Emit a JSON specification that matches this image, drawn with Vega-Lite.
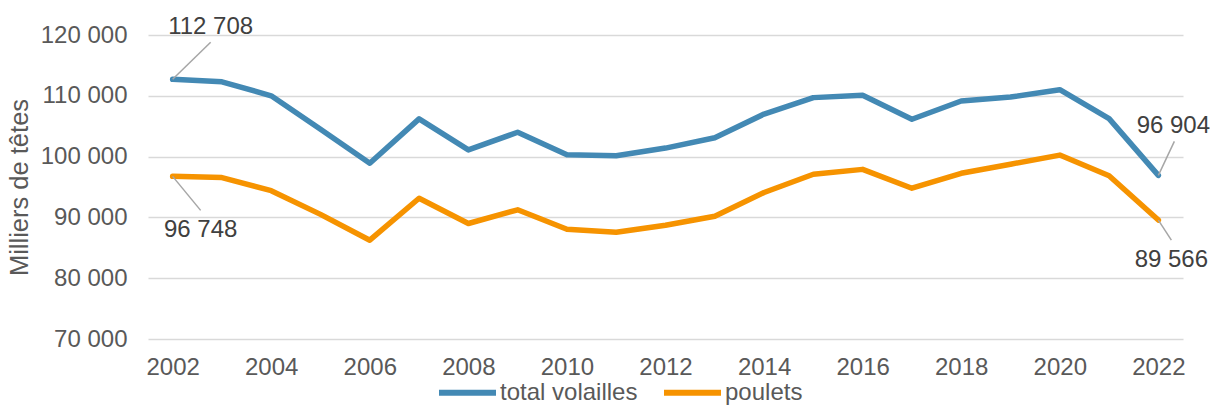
{
  "$schema": "https://vega.github.io/schema/vega-lite/v6.json",
  "autosize": {"type": "none"},
  "padding": {"left": 148, "top": 35, "right": 27, "bottom": 66},
  "width": 1035,
  "height": 304,
  "background": "white",
  "config": {
    "view": {"stroke": null},
    "font": "Liberation Sans",
    "text": {"font": "Liberation Sans"}
  },
  "datasets": {
    "main": [
      {"year": 2002, "series": "total volailles", "value": 112708},
      {"year": 2003, "series": "total volailles", "value": 112300},
      {"year": 2004, "series": "total volailles", "value": 110000},
      {"year": 2005, "series": "total volailles", "value": 104500},
      {"year": 2006, "series": "total volailles", "value": 98900},
      {"year": 2007, "series": "total volailles", "value": 106200},
      {"year": 2008, "series": "total volailles", "value": 101100},
      {"year": 2009, "series": "total volailles", "value": 104000},
      {"year": 2010, "series": "total volailles", "value": 100300},
      {"year": 2011, "series": "total volailles", "value": 100150},
      {"year": 2012, "series": "total volailles", "value": 101400},
      {"year": 2013, "series": "total volailles", "value": 103100},
      {"year": 2014, "series": "total volailles", "value": 107000},
      {"year": 2015, "series": "total volailles", "value": 109700},
      {"year": 2016, "series": "total volailles", "value": 110100},
      {"year": 2017, "series": "total volailles", "value": 106150},
      {"year": 2018, "series": "total volailles", "value": 109150},
      {"year": 2019, "series": "total volailles", "value": 109800},
      {"year": 2020, "series": "total volailles", "value": 111000},
      {"year": 2021, "series": "total volailles", "value": 106250},
      {"year": 2022, "series": "total volailles", "value": 96904},
      {"year": 2002, "series": "poulets", "value": 96748},
      {"year": 2003, "series": "poulets", "value": 96550},
      {"year": 2004, "series": "poulets", "value": 94400},
      {"year": 2005, "series": "poulets", "value": 90500},
      {"year": 2006, "series": "poulets", "value": 86250},
      {"year": 2007, "series": "poulets", "value": 93150},
      {"year": 2008, "series": "poulets", "value": 89000},
      {"year": 2009, "series": "poulets", "value": 91250},
      {"year": 2010, "series": "poulets", "value": 88050},
      {"year": 2011, "series": "poulets", "value": 87550},
      {"year": 2012, "series": "poulets", "value": 88700},
      {"year": 2013, "series": "poulets", "value": 90200},
      {"year": 2014, "series": "poulets", "value": 94100},
      {"year": 2015, "series": "poulets", "value": 97100},
      {"year": 2016, "series": "poulets", "value": 97900},
      {"year": 2017, "series": "poulets", "value": 94800},
      {"year": 2018, "series": "poulets", "value": 97250},
      {"year": 2019, "series": "poulets", "value": 98750},
      {"year": 2020, "series": "poulets", "value": 100250},
      {"year": 2021, "series": "poulets", "value": 96850},
      {"year": 2022, "series": "poulets", "value": 89566}
    ],
    "annotations": [
      {"id": "a", "year": 2002, "series": "total volailles", "value": 112708, "label": "112 708"},
      {"id": "b", "year": 2002, "series": "poulets", "value": 96748, "label": "96 748"},
      {"id": "c", "year": 2022, "series": "total volailles", "value": 96904, "label": "96 904"},
      {"id": "d", "year": 2022, "series": "poulets", "value": 89566, "label": "89 566"}
    ]
  },
  "layer": [
    {
      "data": {"name": "main"},
      "mark": {"type": "line", "strokeWidth": 5.5, "strokeCap": "round", "strokeJoin": "round"},
      "encoding": {
        "x": {
          "field": "year", "type": "quantitative",
          "scale": {"domain": [2001.5, 2022.5], "nice": false, "zero": false},
          "axis": {
            "values": [2002, 2004, 2006, 2008, 2010, 2012, 2014, 2016, 2018, 2020, 2022],
            "format": "d", "title": null, "grid": false, "ticks": false, "domain": false,
            "labelFontSize": 24, "labelColor": "#595959", "labelPadding": 16,
            "labelFont": "Liberation Sans", "labelFlush": false, "labelOverlap": false
          }
        },
        "y": {
          "field": "value", "type": "quantitative",
          "scale": {"domain": [70000, 120000], "nice": false, "zero": false},
          "axis": {
            "values": [70000, 80000, 90000, 100000, 110000, 120000],
            "labelExpr": "replace(format(datum.value, ','), ',', ' ')",
            "title": "Milliers de têtes", "titleFontSize": 25.5, "titleFontWeight": "normal",
            "titleColor": "#595959", "titleFont": "Liberation Sans", "titlePadding": 8,
            "grid": true, "gridColor": "#d9d9d9", "gridWidth": 1.3,
            "ticks": false, "domain": false,
            "labelFontSize": 24, "labelColor": "#595959", "labelPadding": 21,
            "labelFont": "Liberation Sans"
          }
        },
        "color": {
          "field": "series", "type": "nominal",
          "scale": {"domain": ["total volailles", "poulets"], "range": ["#4389B4", "#F69300"]},
          "legend": {
            "title": null, "orient": "none", "direction": "horizontal",
            "legendX": 288, "legendY": 326,
            "symbolType": "stroke", "symbolSize": 3249, "symbolStrokeWidth": 6,
            "labelFontSize": 24, "labelColor": "#595959", "labelFont": "Liberation Sans",
            "labelOffset": 1, "columnPadding": 14
          }
        }
      }
    },
    {
      "data": {"name": "annotations"},
      "transform": [{"filter": "datum.id === 'a'"}],
      "mark": {"type": "rule", "color": "#a6a6a6", "strokeWidth": 1.5, "x2Offset": 38, "y2Offset": -37},
      "encoding": {
        "x": {"field": "year", "type": "quantitative"},
        "y": {"field": "value", "type": "quantitative"},
        "x2": {"field": "year"},
        "y2": {"field": "value"}
      }
    },
    {
      "data": {"name": "annotations"},
      "transform": [{"filter": "datum.id === 'b'"}],
      "mark": {"type": "rule", "color": "#a6a6a6", "strokeWidth": 1.5, "x2Offset": 28, "y2Offset": 34},
      "encoding": {
        "x": {"field": "year", "type": "quantitative"},
        "y": {"field": "value", "type": "quantitative"},
        "x2": {"field": "year"},
        "y2": {"field": "value"}
      }
    },
    {
      "data": {"name": "annotations"},
      "transform": [{"filter": "datum.id === 'c'"}],
      "mark": {"type": "rule", "color": "#a6a6a6", "strokeWidth": 1.5, "x2Offset": 16, "y2Offset": -34},
      "encoding": {
        "x": {"field": "year", "type": "quantitative"},
        "y": {"field": "value", "type": "quantitative"},
        "x2": {"field": "year"},
        "y2": {"field": "value"}
      }
    },
    {
      "data": {"name": "annotations"},
      "transform": [{"filter": "datum.id === 'd'"}],
      "mark": {"type": "rule", "color": "#a6a6a6", "strokeWidth": 1.5, "x2Offset": 13, "y2Offset": 20},
      "encoding": {
        "x": {"field": "year", "type": "quantitative"},
        "y": {"field": "value", "type": "quantitative"},
        "x2": {"field": "year"},
        "y2": {"field": "value"}
      }
    },
    {
      "data": {"name": "annotations"},
      "transform": [{"filter": "datum.id === 'a'"}],
      "mark": {"type": "text", "fontSize": 24, "color": "#404040", "align": "center", "baseline": "alphabetic", "dx": 38, "dy": -45},
      "encoding": {
        "x": {"field": "year", "type": "quantitative"},
        "y": {"field": "value", "type": "quantitative"},
        "text": {"field": "label"}
      }
    },
    {
      "data": {"name": "annotations"},
      "transform": [{"filter": "datum.id === 'b'"}],
      "mark": {"type": "text", "fontSize": 24, "color": "#404040", "align": "center", "baseline": "alphabetic", "dx": 28, "dy": 61},
      "encoding": {
        "x": {"field": "year", "type": "quantitative"},
        "y": {"field": "value", "type": "quantitative"},
        "text": {"field": "label"}
      }
    },
    {
      "data": {"name": "annotations"},
      "transform": [{"filter": "datum.id === 'c'"}],
      "mark": {"type": "text", "fontSize": 24, "color": "#404040", "align": "center", "baseline": "alphabetic", "dx": 15, "dy": -42},
      "encoding": {
        "x": {"field": "year", "type": "quantitative"},
        "y": {"field": "value", "type": "quantitative"},
        "text": {"field": "label"}
      }
    },
    {
      "data": {"name": "annotations"},
      "transform": [{"filter": "datum.id === 'd'"}],
      "mark": {"type": "text", "fontSize": 24, "color": "#404040", "align": "center", "baseline": "alphabetic", "dx": 13, "dy": 47},
      "encoding": {
        "x": {"field": "year", "type": "quantitative"},
        "y": {"field": "value", "type": "quantitative"},
        "text": {"field": "label"}
      }
    }
  ]
}
